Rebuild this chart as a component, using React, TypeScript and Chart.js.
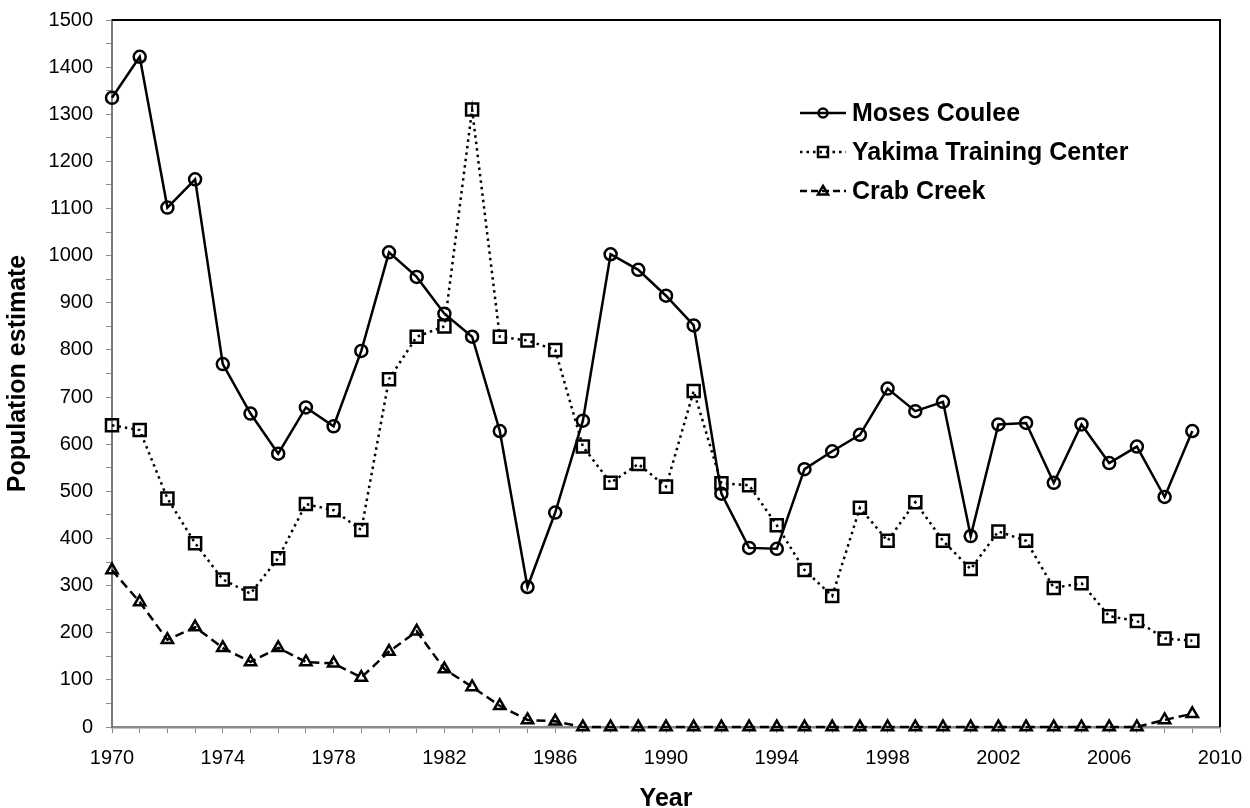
import React, { useEffect, useRef } from "react";
import { Chart, registerables } from "chart.js";

Chart.register(...registerables);

const years = [
  1970, 1971, 1972, 1973, 1974, 1975, 1976, 1977, 1978, 1979,
  1980, 1981, 1982, 1983, 1984, 1985, 1986, 1987, 1988, 1989,
  1990, 1991, 1992, 1993, 1994, 1995, 1996, 1997, 1998, 1999,
  2000, 2001, 2002, 2003, 2004, 2005, 2006, 2007, 2008, 2009,
];

const mosesCoulee = [
  1335, 1422, 1102, 1162, 770, 665, 580, 678, 638, 798,
  1007, 955, 877, 828, 628, 297, 455, 650, 1003, 970,
  915, 852, 495, 380, 378, 547, 585, 620, 718, 670,
  690, 405, 642, 645, 518, 642, 560, 595, 488, 628,
];

const yakimaTrainingCenter = [
  640, 630, 485, 390, 313, 283, 358, 473, 460, 418,
  738, 828, 850, 1310, 828, 820, 800, 595, 518, 558,
  510, 713, 517, 513, 428, 333, 278, 465, 395, 477,
  395, 335, 415, 395, 295, 305, 235, 225, 188, 183,
];

const crabCreek = [
  333, 265, 185, 212, 168, 138, 168, 138, 135, 105,
  160, 203, 123, 85, 45, 15, 12, 0, 0, 0,
  0, 0, 0, 0, 0, 0, 0, 0, 0, 0,
  0, 0, 0, 0, 0, 0, 0, 0, 15, 28,
];

const seriesNames = ["Moses Coulee", "Yakima Training Center", "Crab Creek"];

const FONT = "'Liberation Sans', Arial, sans-serif";

function drawMarker(ctx: CanvasRenderingContext2D, style: string, x: number, y: number, r: number) {
  ctx.beginPath();
  if (style === "circle") {
    ctx.arc(x, y, r, 0, Math.PI * 2);
  } else if (style === "rect") {
    ctx.rect(x - r, y - r, 2 * r, 2 * r);
  } else {
    const h = r * 1.7;
    ctx.moveTo(x, y - h * 0.6);
    ctx.lineTo(x + r, y + h * 0.4);
    ctx.lineTo(x - r, y + h * 0.4);
    ctx.closePath();
  }
  ctx.stroke();
}

const framePlugin = {
  id: "frame",
  afterDatasetsDraw(chart: any) {
    const { ctx, chartArea } = chart;
    ctx.save();
    ctx.strokeStyle = "#000";
    ctx.lineWidth = 2;
    ctx.beginPath();
    ctx.moveTo(chartArea.left, chartArea.top);
    ctx.lineTo(chartArea.right, chartArea.top);
    ctx.lineTo(chartArea.right, chartArea.bottom);
    ctx.stroke();
    ctx.restore();
  },
};

const legendPlugin = {
  id: "customLegend",
  afterDraw(chart: any) {
    const { ctx } = chart;
    const rows = [113, 152, 191];
    const styles = ["circle", "rect", "triangle"];
    const dashes = [[], [2.5, 4], [7, 4]];
    const radii = [4.5, 5, 5];
    ctx.save();
    chart.data.datasets.forEach((ds: any, i: number) => {
      const y = rows[i];
      ctx.strokeStyle = "#000";
      ctx.lineWidth = 2.5;
      ctx.setLineDash(dashes[i]);
      ctx.beginPath();
      ctx.moveTo(800, y);
      ctx.lineTo(846, y);
      ctx.stroke();
      ctx.setLineDash([]);
      ctx.lineWidth = 2.5;
      drawMarker(ctx, styles[i], 823, y, radii[i]);
      ctx.fillStyle = "#000";
      ctx.font = `bold 25px ${FONT}`;
      ctx.textBaseline = "middle";
      ctx.textAlign = "left";
      ctx.fillText(ds.label, 852, y + 1);
    });
    ctx.restore();
  },
};

export default function App() {
  const canvasRef = useRef<HTMLCanvasElement | null>(null);

  useEffect(() => {
    document.body.style.margin = "0";
    const canvas = canvasRef.current;
    if (!canvas) return;
    const mk = (vals: number[]) => vals.map((v, i) => ({ x: years[i], y: v }));
    const chart = new Chart(canvas, {
      type: "line",
      data: {
        datasets: [
          {
            label: seriesNames[0],
            data: mk(mosesCoulee),
            borderColor: "#000",
            borderWidth: 2.5,
            pointStyle: "circle",
            pointRadius: 6,
            pointBorderWidth: 2.5,
            pointBackgroundColor: "rgba(0,0,0,0)",
            pointBorderColor: "#000",
            clip: false,
          },
          {
            label: seriesNames[1],
            data: mk(yakimaTrainingCenter),
            borderColor: "#000",
            borderWidth: 2.5,
            borderDash: [2.5, 4],
            pointStyle: "rect",
            pointRadius: 8.5,
            pointBorderWidth: 2.5,
            pointBackgroundColor: "rgba(0,0,0,0)",
            pointBorderColor: "#000",
            clip: false,
          },
          {
            label: seriesNames[2],
            data: mk(crabCreek),
            borderColor: "#000",
            borderWidth: 2.5,
            borderDash: [9, 5],
            pointStyle: "triangle",
            pointRadius: 6.5,
            pointBorderWidth: 2.5,
            pointBackgroundColor: "rgba(0,0,0,0)",
            pointBorderColor: "#000",
            clip: false,
          },
        ],
      },
      options: {
        animation: false,
        responsive: false,
        devicePixelRatio: 1,
        layout: { padding: { top: 20, right: 30, left: 0, bottom: 0 } },
        plugins: { legend: { display: false }, tooltip: { enabled: false } },
        elements: { line: { tension: 0 } },
        scales: {
          x: {
            type: "linear",
            min: 1970,
            max: 2010,
            afterFit: (s: any) => {
              s.height = 81;
              s.paddingLeft = 0;
              s.paddingRight = 0;
            },
            border: { display: true, color: "#8a8a8a", width: 2.5 },
            grid: { display: true, drawOnChartArea: false, drawTicks: true, tickLength: 6, color: "#8a8a8a", lineWidth: 1 },
            ticks: {
              stepSize: 1,
              autoSkip: false,
              maxRotation: 0,
              color: "#000",
              padding: 13,
              font: { family: FONT, size: 20 },
              callback: (v: any) => ((Number(v) - 1970) % 4 === 0 ? String(v) : ""),
            },
            title: {
              display: true,
              text: "Year",
              color: "#000",
              font: { family: FONT, size: 25, weight: "bold", lineHeight: 1 },
              padding: { top: 0, bottom: -4 },
            },
          },
          y: {
            min: 0,
            max: 1500,
            afterFit: (s: any) => {
              s.width = 112;
              s.paddingTop = 0;
              s.paddingBottom = 0;
            },
            border: { display: true, color: "#7a7a7a", width: 2 },
            grid: { display: true, drawOnChartArea: false, drawTicks: true, tickLength: 6, color: "#8a8a8a", lineWidth: 1 },
            ticks: {
              stepSize: 50,
              autoSkip: false,
              color: "#000",
              padding: 13,
              font: { family: FONT, size: 20 },
              callback: (v: any) => (Number(v) % 100 === 0 ? String(v) : ""),
            },
            title: {
              display: true,
              text: "Population estimate",
              color: "#000",
              font: { family: FONT, size: 25, weight: "bold", lineHeight: 1 },
              padding: { top: 6, bottom: 0 },
            },
          },
        },
      },
      plugins: [framePlugin, legendPlugin],
    } as any);
    return () => chart.destroy();
  }, []);

  return (
    <div style={{ width: 1250, height: 808, background: "#fff" }}>
      <canvas ref={canvasRef} width={1250} height={808} style={{ display: "block" }} />
    </div>
  );
}
